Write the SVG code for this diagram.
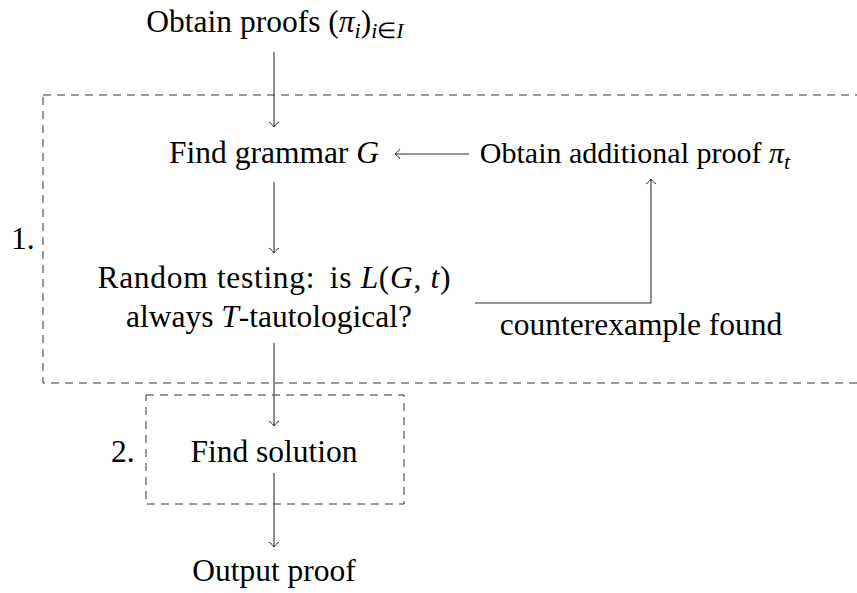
<svg xmlns="http://www.w3.org/2000/svg" width="857" height="593" viewBox="0 0 857 593">
<style>
text{font-family:"Liberation Serif","Times New Roman",serif;font-size:31.5px;fill:#000}
.c{text-anchor:middle}
.m{font-style:italic}
.sub{font-size:22px}
.dash{fill:none;stroke:#333;stroke-width:1;stroke-dasharray:8 6}
.edge{fill:none;stroke:#333;stroke-width:1.1}
</style>
<defs>
<marker id="to" markerUnits="userSpaceOnUse" viewBox="-8 -7 10 14" markerWidth="10" markerHeight="14" refX="0" refY="0" orient="auto">
<path d="M-5,-5 C-3,-2.2 -1.2,-0.6 0,0 C-1.2,0.6 -3,2.2 -5,5" fill="none" stroke="#222" stroke-width="1"/>
</marker>
</defs>
<g id="groups">
<rect id="box1" class="dash" x="43" y="95" width="830" height="288"/>
<rect id="box2" class="dash" x="146" y="395" width="258" height="109"/>
<text x="11" y="249">1.</text>
<text x="111" y="462">2.</text>
</g>
<g id="connectors">
<line class="edge" x1="274" y1="52" x2="274" y2="127" marker-end="url(#to)"/>
<line class="edge" x1="274" y1="182" x2="274" y2="253" marker-end="url(#to)"/>
<line class="edge" x1="274" y1="343" x2="274" y2="426" marker-end="url(#to)"/>
<line class="edge" x1="274" y1="473" x2="274" y2="547" marker-end="url(#to)"/>
<line class="edge" x1="469" y1="154" x2="395" y2="154" marker-end="url(#to)"/>
<polyline class="edge" points="475,303 651,303 651,179" marker-end="url(#to)"/>
<text class="c" x="641" y="335">counterexample found</text>
</g>
<g id="n-obtain">
<text class="c" x="275" y="32">Obtain proofs (<tspan class="m">π</tspan><tspan class="m sub" dy="6">i</tspan><tspan dy="-6">)</tspan><tspan class="m sub" dy="6">i</tspan><tspan class="sub">∈</tspan><tspan class="m sub">I</tspan></text>
</g>
<g id="n-grammar">
<text class="c" x="274" y="163">Find grammar <tspan class="m">G</tspan></text>
</g>
<g id="n-additional">
<text class="c" x="635" y="163" style="font-size:30px">Obtain additional proof <tspan class="m">π</tspan><tspan class="m sub" dy="6">t</tspan></text>
</g>
<g id="n-testing">
<text class="c" x="274" y="288" textLength="353">Random testing: <tspan dx="6">is</tspan> <tspan class="m">L</tspan>(<tspan class="m">G</tspan>, <tspan class="m">t</tspan>)</text>
<text class="c" x="269" y="327">always <tspan class="m">T</tspan>-tautological?</text>
</g>
<g id="n-solution">
<text class="c" x="274" y="462">Find solution</text>
</g>
<g id="n-output">
<text class="c" x="274" y="581">Output proof</text>
</g>
</svg>
